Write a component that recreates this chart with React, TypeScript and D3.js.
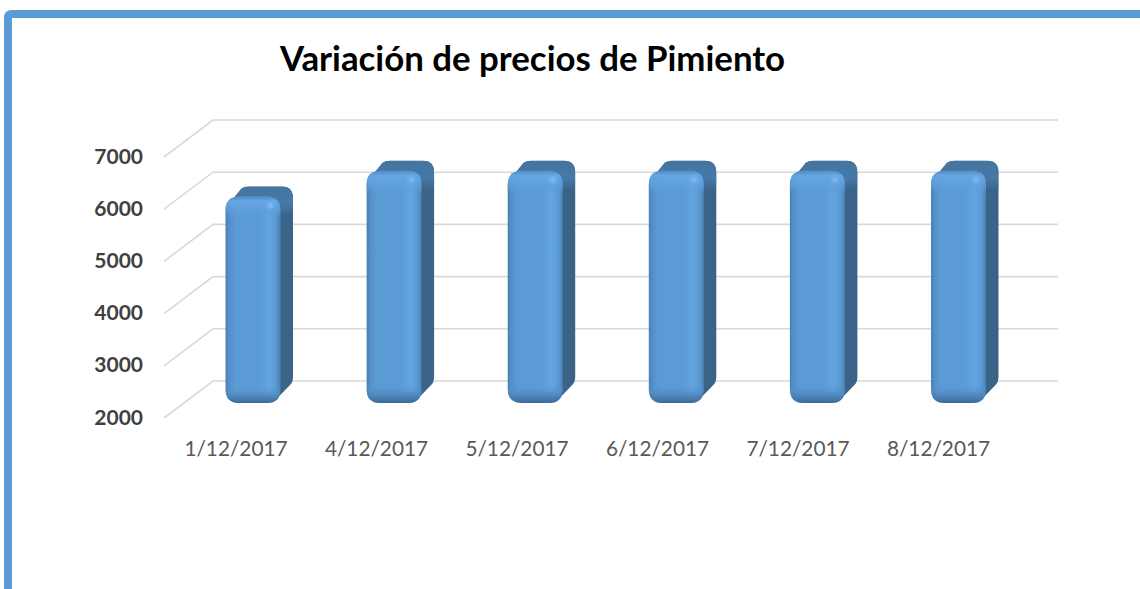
import React from "react";
import * as d3 from "d3";

const title = "Variación de precios de Pimiento";
const categories = ["1/12/2017", "4/12/2017", "5/12/2017", "6/12/2017", "7/12/2017", "8/12/2017"];
const prices = [6000, 6500, 6500, 6500, 6500, 6500];
const yTicks = [2000, 3000, 4000, 5000, 6000, 7000];

const W = 1140;
const H = 589;
const FONT = "Lato, 'Open Sans', sans-serif";

// 3D projection offsets
const wallDx = 49; // floor depth in x
const wallDy = 37; // floor depth in y
const barDy = 10;
const barDx = 12.5;
const barW = 55;

const yFront = d3.scaleLinear().domain([2000, 7000]).range([418, 157]);
const yBack = d3.scaleLinear().domain([2000, 7000]).range([418 - wallDy, 157 - wallDy]);
const yBar = d3.scaleLinear().domain([2000, 7000]).range([403, 145]);
const xBar = d3.scalePoint<string>().domain(categories).range([253, 958.5]);
const xLabel = d3.scalePoint<string>().domain(categories).range([236, 938.5]);

function roundedRect(x: number, y: number, w: number, h: number, r: number) {
  const p = d3.path();
  p.moveTo(x + r, y);
  p.lineTo(x + w - r, y);
  p.quadraticCurveTo(x + w, y, x + w, y + r);
  p.lineTo(x + w, y + h - r);
  p.quadraticCurveTo(x + w, y + h, x + w - r, y + h);
  p.lineTo(x + r, y + h);
  p.quadraticCurveTo(x, y + h, x, y + h - r);
  p.lineTo(x, y + r);
  p.quadraticCurveTo(x, y, x + r, y);
  p.closePath();
  return p.toString();
}

function silhouette(x: number, top: number, bottom: number) {
  const p = d3.path();
  const rx = x + barW + barDx;
  const ty = top - barDy;
  p.moveTo(x + 3, top + 8);
  p.lineTo(x + 16, ty + 2);
  p.quadraticCurveTo(x + 19, ty, x + 23, ty);
  p.lineTo(rx - 11, ty);
  p.quadraticCurveTo(rx, ty, rx, ty + 12);
  p.lineTo(rx, bottom - 26);
  p.quadraticCurveTo(rx, bottom - 21, rx - 3, bottom - 18);
  p.lineTo(x + barW - 5, bottom - 3);
  p.lineTo(x + 30, bottom - 3);
  p.closePath();
  return p.toString();
}

export default function App() {
  return (
    <svg
      width={W}
      height={H}
      viewBox={`0 0 ${W} ${H}`}
      style={{ position: "absolute", left: 0, top: 0, background: "#fff" }}
    >
      <defs>
        <linearGradient id="front" x1="0" x2="1" y1="0" y2="0">
          <stop offset="0" stopColor="#4a80b3" />
          <stop offset="0.07" stopColor="#5590c8" />
          <stop offset="0.18" stopColor="#5b9bd5" />
          <stop offset="0.62" stopColor="#5b9bd5" />
          <stop offset="0.8" stopColor="#63a5e1" />
          <stop offset="0.92" stopColor="#5a99d2" />
          <stop offset="1" stopColor="#4a80b3" />
        </linearGradient>
        <linearGradient id="frontV" x1="0" x2="0" y1="0" y2="1">
          <stop offset="0" stopColor="#4f86ba" stopOpacity="0.8" />
          <stop offset="0.02" stopColor="#66a8e4" stopOpacity="0.9" />
          <stop offset="0.06" stopColor="#60a2de" stopOpacity="0.75" />
          <stop offset="0.1" stopColor="#5b9bd5" stopOpacity="0" />
          <stop offset="0.92" stopColor="#5b9bd5" stopOpacity="0" />
          <stop offset="0.97" stopColor="#4a80b3" stopOpacity="0.85" />
          <stop offset="1" stopColor="#3b6896" stopOpacity="1" />
        </linearGradient>
        <radialGradient id="glint">
          <stop offset="0" stopColor="#85c0f5" stopOpacity="0.95" />
          <stop offset="1" stopColor="#63a5e1" stopOpacity="0" />
        </radialGradient>
        <linearGradient id="side" x1="0" x2="1" y1="0" y2="0">
          <stop offset="0" stopColor="#3c668d" />
          <stop offset="1" stopColor="#3a6387" />
        </linearGradient>
        <linearGradient id="topFace" x1="0" x2="0" y1="0" y2="1">
          <stop offset="0" stopColor="#44759f" />
          <stop offset="0.6" stopColor="#4779a8" />
          <stop offset="1" stopColor="#3c668d" />
        </linearGradient>
      </defs>

      {/* slide frame */}
      <path d={`M${W} 14 H12 Q8 14 8 18 V${H}`} fill="none" stroke="#5b9bd5" strokeWidth={8} />

      <text
        x={532.5}
        y={71}
        textAnchor="middle"
        fontFamily={FONT}
        fontWeight={700}
        fontSize={34.8}
        fill="#000"
      >
        {title}
      </text>

      {/* gridlines */}
      {yTicks.map((t) => (
        <polyline
          key={t}
          points={`${164},${yFront(t)} ${164 + wallDx},${yBack(t)} 1058,${yBack(t)}`}
          fill="none"
          stroke="#d9d9d9"
          strokeWidth={1.6}
        />
      ))}

      {/* y axis labels */}
      {yTicks.map((t) => (
        <text
          key={t}
          x={143}
          y={yFront(t) - 1}
          dy="0.36em"
          textAnchor="end"
          fontFamily={FONT}
          fontWeight={700}
          fontSize={21}
          fill="#404040"
        >
          {t}
        </text>
      ))}

      {/* bars */}
      {categories.map((c, i) => {
        const x = (xBar(c) as number) - barW / 2;
        const top = yBar(prices[i]);
        const bottom = yBar(2000);
        const sil = silhouette(x, top, bottom);
        return (
          <g key={c}>
            <path d={sil} fill="url(#side)" />
            <clipPath id={`top-${i}`}>
              <path d={sil} />
            </clipPath>
            <rect
              x={x}
              y={top - barDy}
              width={barW + barDx}
              height={barDy + 18}
              fill="url(#topFace)"
              clipPath={`url(#top-${i})`}
            />
            <path d={roundedRect(x, top, barW, bottom - top, 14)} fill="url(#front)" />
            <path d={roundedRect(x, top, barW, bottom - top, 14)} fill="url(#frontV)" />
            <ellipse cx={x + barW - 10} cy={top + 9} rx={7} ry={7} fill="url(#glint)" />
          </g>
        );
      })}

      {/* x axis labels */}
      {categories.map((c) => (
        <text
          key={c}
          x={xLabel(c) as number}
          y={456}
          textAnchor="middle"
          fontFamily={FONT}
          fontSize={20.8}
          fill="#595959"
        >
          {c}
        </text>
      ))}
    </svg>
  );
}
